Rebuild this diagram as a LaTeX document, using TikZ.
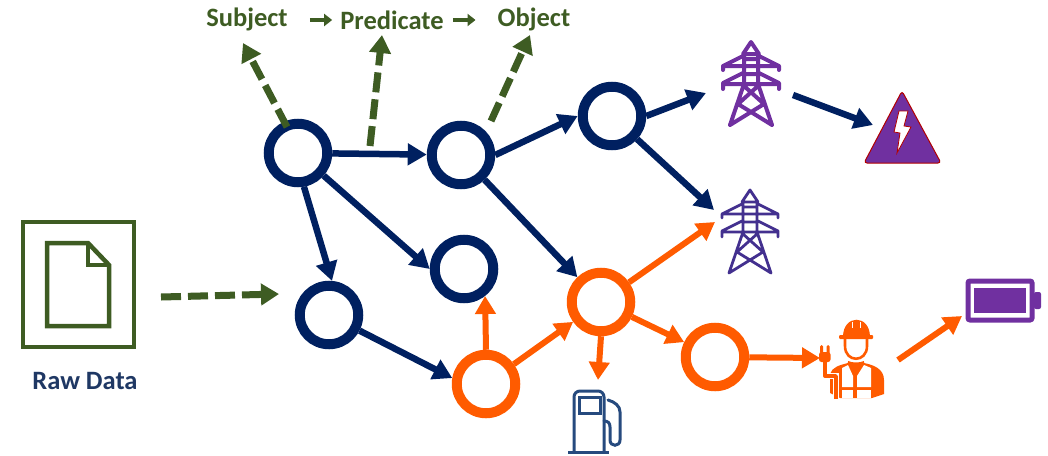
\documentclass[tikz,border=0pt]{standalone}
\usepackage{fontspec}
\setmainfont{Carlito}
\usetikzlibrary{arrows.meta}
\definecolor{navy}{HTML}{002060}
\definecolor{orng}{HTML}{FF5B00}
\definecolor{purp}{HTML}{7030A0}
\definecolor{grn}{HTML}{3E5C23}
\definecolor{pumpblue}{HTML}{264A7E}
\definecolor{labelblue}{HTML}{1F3864}
\definecolor{towerb}{HTML}{43308F}
\tikzset{
  x=1pt,y=-1pt,
  nv/.style={circle,draw=navy,line width=10pt,minimum size=58.5pt,inner sep=0pt,fill=white},
  og/.style={circle,draw=orng,line width=10pt,minimum size=58.5pt,inner sep=0pt,fill=white},
  nvarrow/.style={draw=navy,line width=6.5pt,-{Triangle[length=19pt,width=21pt]}},
  ogarrow/.style={draw=orng,line width=6pt,-{Triangle[length=18pt,width=20pt]}},
  grarrow/.style={draw=grn,line width=7pt,dash pattern=on 20pt off 7pt,-{Triangle[length=18pt,width=21pt]}},
  smallarrow/.style={draw=grn,line width=4pt,-{Triangle[length=8pt,width=12pt]}},
  triple/.style={font=\fontsize{26.5}{28}\selectfont\bfseries,text=grn,inner sep=0pt,anchor=base,text height=17pt,text depth=6pt},
  tower/.pic={
    \draw[line width=#1,line join=round,line cap=round]
      (0,0) -- (-8,12) -- (8,12) -- cycle
      (-7,12) -- (-7,42) -- (-21,83)
      (7,12) -- (7,42) -- (21,83)
      (-8,14) -- (-28,24) -- (-28,28) (8,14) -- (28,24) -- (28,28)
      (-28,24) -- (28,24)
      (-7,17) -- (7,17)
      (-7,32) -- (7,32)
      (-8,31) -- (-28,41) -- (-28,47) (8,31) -- (28,41) -- (28,47)
      (-28,42) -- (28,42)
      (-7,44) -- (13,62) -- (-21,83)
      (7,44) -- (-13,62) -- (21,83);
  },
  tower/.default=3pt
}
\begin{document}
\begin{tikzpicture}
\useasboundingbox (0,0) rectangle (1048,455);
% graph nodes
\node[nv] (A) at (298,153) {};
\node[nv] (B) at (461,155) {};
\node[nv] (C) at (612,116) {};
\node[nv] (D) at (464,269) {};
\node[nv] (E) at (329,315) {};
\node[og] (F) at (486,384) {};
\node[og] (G) at (601,302) {};
\node[og] (H) at (715,357) {};
% text
\node[triple] (subj) at (247,27) {Subject};
\node[triple] (pred) at (392,29) {Predicate};
\node[triple] (obj) at (534,27) {Object};
\node[font=\fontsize{26.5}{28}\selectfont\bfseries,text=labelblue,inner sep=0pt,anchor=base] (raw) at (85,389) {Raw Data};
% raw data box
\node[draw=grn,line width=4.5pt,minimum width=111pt,minimum height=125pt,inner sep=0pt] (box) at (78.5,284.5) {};
\draw[draw=grn,line width=4.5pt,line join=miter] (47,243) -- (88,243) -- (109,265) -- (109,326) -- (47,326) -- cycle;
\draw[draw=grn,line width=4.5pt] (88,243) -- (88,265) -- (109,265);
% icon anchor points
\coordinate (t1in) at (706,93);
\coordinate (t1out) at (793,95);
\coordinate (warnin) at (873,125);
\coordinate (t2in) at (714,210);
\coordinate (t2org) at (715,222);
\coordinate (pumpin) at (598,380);
\coordinate (wkin) at (820,358);
\coordinate (wkout) at (898,360);
\coordinate (batin) at (962,316);
\coordinate (rawout) at (161,297);
\coordinate (ein) at (279,294);
\coordinate (s0) at (370,146);
\coordinate (s1) at (382,35);
\coordinate (o0) at (491,121);
\coordinate (o1) at (530,35);
\coordinate (a0) at (287,127);
\coordinate (a1) at (243,43);
% navy connectors
\draw[nvarrow] (A) -- (B);
\draw[nvarrow] (B.east) -- (C.west);
\draw[nvarrow] (C.east) -- (t1in);
\draw[nvarrow] (C) -- (t2in);
\draw[nvarrow] (B) -- (G);
\draw[nvarrow] (A.-80) -- (E.85);
\draw[nvarrow] (A) -- (D.west);
\draw[nvarrow] (E) -- (F.170);
\draw[nvarrow] (t1out) -- (warnin);
% orange connectors
\draw[ogarrow] (F.north) -- (D.-52);
\draw[ogarrow] (F) -- (G);
\draw[ogarrow] (G) -- (H);
\draw[ogarrow] (G) -- (t2org);
\draw[ogarrow] (G.south) -- (pumpin);
\draw[ogarrow] (H) -- (wkin);
\draw[ogarrow] (wkout) -- (batin);
% green connectors
\draw[grarrow] (rawout) -- (ein);
\draw[grarrow] (a0) -- (a1);
\draw[grarrow] (s0) -- (s1);
\draw[grarrow] (o0) -- (o1);
\draw[smallarrow,shorten <=22pt,shorten >=8pt] ([yshift=1.5pt]subj.east) -- ([yshift=3.5pt]pred.west);
\draw[smallarrow,shorten <=9pt,shorten >=22pt] ([yshift=3.5pt]pred.east) -- ([yshift=1.5pt]obj.west);
% towers
\pic[draw=purp] at (751,42) {tower=4pt};
\pic[draw=towerb] at (750,190) {tower=2.8pt};
% warning triangle
\draw[fill=purp,draw=red!70!black,line width=1pt,rounded corners=3pt] (902,91) -- (941,163) -- (864,163) -- cycle;
\draw[fill=white,draw=red!70!black,line width=.8pt] (899,111) -- (908,111) -- (904,126) -- (911,127) -- (897,153) -- (900,133) -- (894,132) -- cycle;
% battery
\draw[draw=purp,line width=5pt,rounded corners=2pt] (968,281) rectangle (1032,320);
\fill[purp] (974,288) rectangle (1026,313);
\fill[purp,rounded corners=2pt] (1034,292) rectangle (1041,309);
% pump
\draw[draw=pumpblue,line width=3pt,rounded corners=6pt] (574,452) -- (574,391) -- (604,391) -- (604,452);
\draw[draw=pumpblue,line width=3pt] (579,397) rectangle (600,413);
\draw[draw=pumpblue,line width=3pt] (568,452) -- (609,452);
\draw[draw=pumpblue,line width=3pt,line cap=round] (608,400) .. controls (615,402) and (620,406) .. (620,412) -- (620,440) .. controls (620,447) and (610,447) .. (610,440) -- (610,427) .. controls (610,423) and (608,421) .. (604,421);
% worker
\fill[orng] (843,337) .. controls (843,314) and (870,314) .. (870,337) -- cycle;
\fill[orng,rounded corners=1pt] (839,335) rectangle (873,339);
\draw[white,line width=.8pt] (852,322) -- (852,328) (860,322) -- (860,328);
\draw[orng,line width=2.6pt] (845,339) -- (845,346) .. controls (845,363) and (867,363) .. (867,346) -- (867,339);
\draw[orng,line width=2pt] (848,362) .. controls (852,364) and (860,364) .. (864,362);
\fill[orng] (830,374) .. controls (832,367) and (840,365) .. (848,363) -- (864,363) .. controls (874,365) and (884,369) .. (884,380) -- (884,394) -- (872,398) -- (840,398) -- (830,393) -- cycle;
\fill[white] (842,368) -- (848,365) -- (853,376) -- (853,387) -- (842,387) -- cycle;
\fill[white] (871,368) -- (864,365) -- (857,376) -- (857,387) -- (871,387) -- cycle;
\fill[white] (842,390) rectangle (853,398);
\fill[white] (857,390) rectangle (871,398);
\draw[white,line width=5.5pt] (825,362) -- (825,376) -- (836,376) -- (836,399);
\draw[orng,line width=3.4pt,line join=round] (825,360) -- (825,376) -- (836,376) -- (836,399);
\fill[orng,rounded corners=1.5pt] (820,345) rectangle (823,354);
\fill[orng,rounded corners=1.5pt] (826.5,345) rectangle (829.5,354);
\fill[orng,rounded corners=2.5pt] (819,352) rectangle (830.5,362);
\end{tikzpicture}
\end{document}
